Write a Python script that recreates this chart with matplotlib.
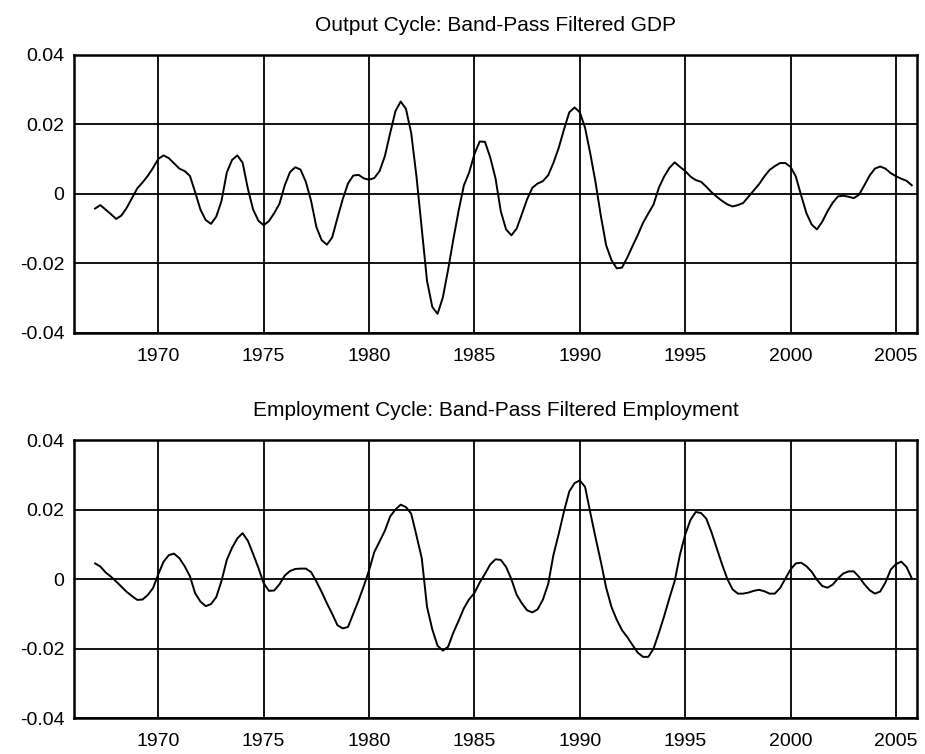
import matplotlib
matplotlib.use("Agg")
import matplotlib.pyplot as plt
import numpy as np

plt.rcParams['font.family'] = ['Liberation Sans', 'DejaVu Sans']

# quarterly observations, 1967Q1 - 2005Q4
start_year = 1967
n_obs = 156

gdp_cycle = [
    -0.0042, -0.0032, -0.0045, -0.0058,   # 1967
    -0.0072, -0.0062, -0.0040, -0.0012,   # 1968
    0.0016, 0.0033, 0.0052, 0.0075,       # 1969
    0.0101, 0.0111, 0.0103, 0.0088,       # 1970
    0.0073, 0.0066, 0.0052, 0.0005,       # 1971
    -0.0045, -0.0075, -0.0086, -0.0065,   # 1972
    -0.0020, 0.0062, 0.0098, 0.0111,      # 1973
    0.0090, 0.0015, -0.0045, -0.0077,     # 1974
    -0.0090, -0.0078, -0.0055, -0.0028,   # 1975
    0.0025, 0.0063, 0.0077, 0.0070,       # 1976
    0.0035, -0.0020, -0.0095, -0.0133,    # 1977
    -0.0146, -0.0125, -0.0069, -0.0015,   # 1978
    0.0030, 0.0053, 0.0055, 0.0045,       # 1979
    0.0041, 0.0046, 0.0066, 0.0109,       # 1980
    0.0175, 0.0238, 0.0266, 0.0245,       # 1981
    0.0175, 0.0050, -0.0100, -0.0250,     # 1982
    -0.0325, -0.0345, -0.0298, -0.0218,   # 1983
    -0.0130, -0.0048, 0.0025, 0.0062,     # 1984
    0.0115, 0.0151, 0.0150, 0.0105,       # 1985
    0.0045, -0.0050, -0.0102, -0.0119,    # 1986
    -0.0100, -0.0058, -0.0015, 0.0018,    # 1987
    0.0030, 0.0037, 0.0054, 0.0090,       # 1988
    0.0133, 0.0186, 0.0235, 0.0249,       # 1989
    0.0235, 0.0190, 0.0115, 0.0032,       # 1990
    -0.0064, -0.0148, -0.0190, -0.0214,   # 1991
    -0.0212, -0.0183, -0.0150, -0.0118,   # 1992
    -0.0083, -0.0056, -0.0030, 0.0018,    # 1993
    0.0050, 0.0075, 0.0091, 0.0078,       # 1994
    0.0066, 0.0050, 0.0040, 0.0035,       # 1995
    0.0021, 0.0005, -0.0008, -0.0020,     # 1996
    -0.0030, -0.0036, -0.0032, -0.0026,   # 1997
    -0.0008, 0.0010, 0.0028, 0.0050,      # 1998
    0.0069, 0.0080, 0.0089, 0.0089,       # 1999
    0.0078, 0.0050, -0.0004, -0.0055,     # 2000
    -0.0088, -0.0102, -0.0080, -0.0050,   # 2001
    -0.0025, -0.0007, -0.0005, -0.0008,   # 2002
    -0.0012, -0.0002, 0.0025, 0.0053,     # 2003
    0.0073, 0.0079, 0.0073, 0.0060,       # 2004
    0.0051, 0.0044, 0.0038, 0.0025,       # 2005
]

emp_cycle = [
    0.0045, 0.0036, 0.0019, 0.0007,       # 1967
    -0.0007, -0.0022, -0.0037, -0.0049,   # 1968
    -0.0060, -0.0059, -0.0046, -0.0026,   # 1969
    0.0014, 0.0050, 0.0069, 0.0073,       # 1970
    0.0060, 0.0037, 0.0008, -0.0041,      # 1971
    -0.0065, -0.0078, -0.0072, -0.0052,   # 1972
    -0.0005, 0.0055, 0.0090, 0.0117,      # 1973
    0.0132, 0.0110, 0.0072, 0.0032,       # 1974
    -0.0012, -0.0034, -0.0033, -0.0015,   # 1975
    0.0010, 0.0023, 0.0029, 0.0030,       # 1976
    0.0030, 0.0020, -0.0007, -0.0037,     # 1977
    -0.0070, -0.0100, -0.0133, -0.0142,   # 1978
    -0.0138, -0.0100, -0.0062, -0.0020,   # 1979
    0.0025, 0.0078, 0.0108, 0.0139,       # 1980
    0.0180, 0.0200, 0.0214, 0.0207,       # 1981
    0.0188, 0.0125, 0.0060, -0.0080,      # 1982
    -0.0145, -0.0192, -0.0206, -0.0195,   # 1983
    -0.0154, -0.0120, -0.0084, -0.0058,   # 1984
    -0.0040, -0.0010, 0.0015, 0.0042,     # 1985
    0.0057, 0.0055, 0.0035, 0.0000,       # 1986
    -0.0045, -0.0070, -0.0090, -0.0096,   # 1987
    -0.0087, -0.0059, -0.0014, 0.0070,    # 1988
    0.0130, 0.0195, 0.0252, 0.0276,       # 1989
    0.0284, 0.0265, 0.0190, 0.0118,       # 1990
    0.0049, -0.0025, -0.0080, -0.0117,    # 1991
    -0.0147, -0.0167, -0.0190, -0.0212,   # 1992
    -0.0224, -0.0224, -0.0200, -0.0155,   # 1993
    -0.0107, -0.0055, -0.0006, 0.0070,    # 1994
    0.0128, 0.0170, 0.0193, 0.0190,       # 1995
    0.0174, 0.0134, 0.0088, 0.0042,       # 1996
    0.0000, -0.0030, -0.0042, -0.0042,    # 1997
    -0.0039, -0.0034, -0.0031, -0.0035,   # 1998
    -0.0042, -0.0042, -0.0026, 0.0001,    # 1999
    0.0028, 0.0045, 0.0047, 0.0037,       # 2000
    0.0021, -0.0002, -0.0020, -0.0025,    # 2001
    -0.0016, 0.0002, 0.0016, 0.0022,      # 2002
    0.0022, 0.0006, -0.0015, -0.0032,     # 2003
    -0.0042, -0.0036, -0.0010, 0.0027,    # 2004
    0.0043, 0.0050, 0.0035, 0.0002,       # 2005
]

titles = ["Output Cycle: Band-Pass Filtered GDP",
          "Employment Cycle: Band-Pass Filtered Employment"]
year_ticks = [1970, 1975, 1980, 1985, 1990, 1995, 2000, 2005]
y_ticks = [-0.04, -0.02, 0, 0.02, 0.04]
y_labels = ["-0.04", "-0.02", "0", "0.02", "0.04"]

dates = start_year + np.arange(n_obs) / 4.0

fig = plt.figure(figsize=(9.25, 7.54), dpi=100)
ax1 = fig.add_axes([0.080, 0.5584, 0.9114, 0.3687])
ax2 = fig.add_axes([0.080, 0.0477, 0.9114, 0.3687])

for ax, series, title in zip([ax1, ax2], [gdp_cycle, emp_cycle], titles):
    ax.plot(dates, series, color='black', lw=1.4)
    ax.set_xlim(1966, 2006)
    ax.set_ylim(-0.04, 0.04)
    ax.set_xticks(year_ticks)
    ax.set_xticklabels([str(y) for y in year_ticks])
    ax.set_yticks(y_ticks)
    ax.set_yticklabels(y_labels)
    ax.grid(True, color='black', lw=1.3)
    ax.set_axisbelow(True)
    ax.tick_params(length=0, labelsize=14)
    ax.tick_params(axis='x', pad=11)
    ax.tick_params(axis='y', pad=7)
    for sp in ax.spines.values():
        sp.set_linewidth(1.8)
    ax.set_title(title, fontsize=15, pad=17)

fig.savefig("out.png", dpi=100)
